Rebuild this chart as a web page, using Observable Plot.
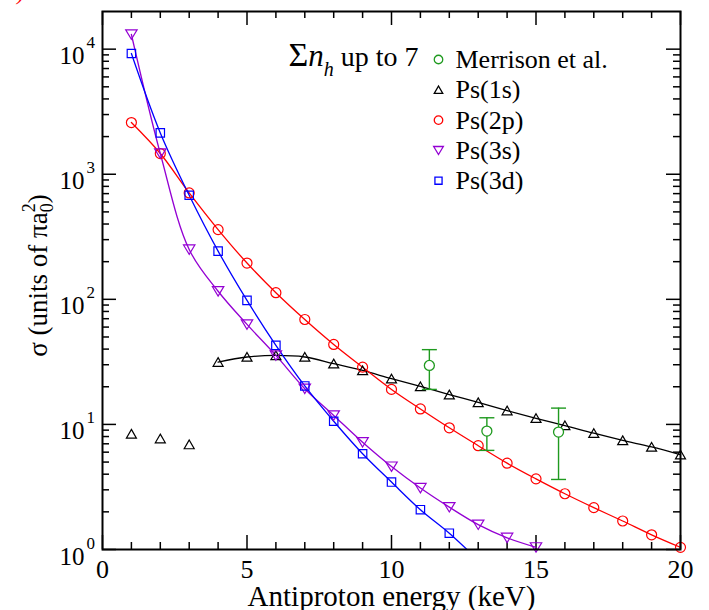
<!DOCTYPE html>
<html><head><meta charset="utf-8">
<script src="https://cdn.jsdelivr.net/npm/d3@7"></script>
<script src="https://cdn.jsdelivr.net/npm/@observablehq/plot@0.6"></script>
<style>
body{margin:0;background:#fff;}
#wrap{position:relative;width:709px;height:610px;overflow:hidden;}
#tag{position:absolute;left:6px;top:-20px;color:#f00;font:italic 22px "Liberation Serif";}
svg{display:block;}
</style>
</head><body><div id="wrap"><span id="tag">a)</span></div>
<script>
// ---- data ----
const energies = [1,2,3,4,5,6,7,8,9,10,11,12,13,14,15,16,17,18,19,20];
const ps1s = [8.4,7.7,6.9,31.5,34.6,35.6,34.6,30.6,27,23.2,20.1,17.3,15,12.9,11.2,9.8,8.5,7.45,6.6,5.72];
const ps2p = [2590,1464,709,361,195,113,69,43.6,28.7,19.05,13.3,9.4,6.76,4.9,3.67,2.79,2.16,1.69,1.31,1.04];
const ps3s = [13100,1464,250,116,63,35.6,19.3,11.8,7.2,4.6,3.1,2.18,1.58,1.24,1.04];
const ps3d = [9230,2140,679,243,98,42.9,20.3,10.6,5.83,3.46,2.08,1.35];
const ps3dTailX = [13];          // fitted curve continues below the axis
const ps3dTailY = [0.82];
const merrisonX = [11.31,13.3,15.78];
const merrisonY = [29.6,8.84,8.68];
const merrisonLo = [19.05,6.2,3.63];
const merrisonHi = [39.6,11.3,13.5];
const xMajor = [0,5,10,15,20];
const xMinor = [1,2,3,4,6,7,8,9,11,12,13,14,16,17,18,19];
const yMajor = [1,10,100,1000,10000];
const yExp = ["0","1","2","3","4"];
const yMinor = [2,3,4,5,6,7,8,9,20,30,40,50,60,70,80,90,200,300,400,500,600,700,800,900,2000,3000,4000,5000,6000,7000,8000,9000];
const legendLabels = ["Merrison et al.","Ps(1s)","Ps(2p)","Ps(3s)","Ps(3d)"];
const colors = {merrison:"#1f9a1f", s1:"#000000", p2:"#ff0000", s3:"#9400d3", d3:"#0000ff"};

// ---- symbols ----
const mk = k => ({
  circle:{draw(c){const r=5*k;c.moveTo(r,0);c.arc(0,0,r,0,2*Math.PI);}},
  up:{draw(c){c.moveTo(0,-4.5*k);c.lineTo(5*k,4.2*k);c.lineTo(-5*k,4.2*k);c.closePath();}},
  down:{draw(c){c.moveTo(0,4.8*k);c.lineTo(5.7*k,-4.6*k);c.lineTo(-5.7*k,-4.6*k);c.closePath();}},
  square:{draw(c){c.rect(-4.2*k,-4.2*k,8.4*k,8.4*k);}}
});
const S = mk(1), L = mk(0.85);
const cap = {draw(c){c.moveTo(-7.5,0);c.lineTo(7.5,0);}};

const rows = (xs, ys) => ys.map((v,i)=>({x:xs[i], y:v}));
const d1s = rows(energies, ps1s);
const d2p = rows(energies, ps2p);
const d3s = rows(energies, ps3s);
const d3d = rows(energies, ps3d);
const d3dLine = d3d.concat(rows(ps3dTailX, ps3dTailY));
const merr = merrisonX.map((x,i)=>({x, y:merrisonY[i], lo:merrisonLo[i], hi:merrisonHi[i]}));

const W = 709, H = 610, ML = 102, MR = 29, MT = 11, MB = 61;
const FW = W-ML-MR, FH = H-MT-MB;

const legendSyms = [
  {sym:L.circle, c:colors.merrison},
  {sym:L.up, c:colors.s1},
  {sym:L.circle, c:colors.p2},
  {sym:L.down, c:colors.s3},
  {sym:L.square, c:colors.d3}
];
const legendMarks = [];
legendLabels.forEach((lab,i)=>{
  const rowY = 59 + 30.3*i - MT;
  legendMarks.push(Plot.dot([lab], {x:null, y:null, frameAnchor:"top-left", dx:336, dy:rowY, symbol:legendSyms[i].sym, stroke:legendSyms[i].c, strokeWidth:1.3, fill:"none"}));
  legendMarks.push(Plot.text([lab], {x:null, y:null, text:d=>d, frameAnchor:"top-left", dx:353, dy:rowY+8.5, textAnchor:"start", lineAnchor:"bottom", fontSize:26}));
});

const chart = Plot.plot({
  width: W, height: H,
  marginLeft: ML, marginRight: MR, marginTop: MT, marginBottom: MB,
  style: {fontFamily: "Liberation Serif", fontSize: "24px", background: "white", color: "black"},
  x: {domain: [0,20], axis: null},
  y: {type: "log", domain: [1, 2e4], axis: null},
  marks: [
    // ticks (inward)
    Plot.tickX(xMajor, {x:d=>d, insetTop:FH-14, stroke:"black", strokeWidth:1.5}),
    Plot.tickX(xMinor, {x:d=>d, insetTop:FH-7, stroke:"black", strokeWidth:1.5}),
    Plot.tickX(xMajor, {x:d=>d, insetBottom:FH-14, stroke:"black", strokeWidth:1.5}),
    Plot.tickX(xMinor, {x:d=>d, insetBottom:FH-7, stroke:"black", strokeWidth:1.5}),
    Plot.tickY(yMajor, {y:d=>d, insetRight:FW-14, stroke:"black", strokeWidth:1.5}),
    Plot.tickY(yMinor, {y:d=>d, insetRight:FW-7, stroke:"black", strokeWidth:1.5}),
    Plot.tickY(yMajor, {y:d=>d, insetLeft:FW-14, stroke:"black", strokeWidth:1.5}),
    Plot.tickY(yMinor, {y:d=>d, insetLeft:FW-7, stroke:"black", strokeWidth:1.5}),
    // tick labels
    Plot.text(xMajor, {x:d=>d, frameAnchor:"bottom", dy:28, text:d=>String(d), textAnchor:"middle", lineAnchor:"bottom", fontSize:26}),
    Plot.text(yMajor, {y:d=>d, frameAnchor:"left", dx:-18, dy:15, text:()=>"10", textAnchor:"end", lineAnchor:"bottom", fontSize:25}),
    Plot.text(yMajor, {y:d=>d, frameAnchor:"left", dx:-16, dy:-1, text:(d,i)=>yExp[i], textAnchor:"start", lineAnchor:"bottom", fontSize:17}),
    // axis titles
    Plot.text(["Antiproton energy (keV)"], {x:null, y:null, frameAnchor:"bottom", dy:56, text:d=>d, textAnchor:"middle", lineAnchor:"bottom", fontSize:29}),
    Plot.text(["σ (units of πa"], {x:null, y:null, frameAnchor:"left", dx:-56, dy:-5, rotate:-90, text:d=>d, textAnchor:"middle", lineAnchor:"bottom", fontSize:27}),
    // lines
    Plot.line(d1s.filter(d=>d.x>=4), {x:"x", y:"y", stroke:colors.s1, strokeWidth:1.3, curve:"catmull-rom", clip:true}),
    Plot.line(d2p, {x:"x", y:"y", stroke:colors.p2, strokeWidth:1.3, curve:"catmull-rom", clip:true}),
    Plot.line(d3s, {x:"x", y:"y", stroke:colors.s3, strokeWidth:1.3, curve:"catmull-rom", clip:true}),
    Plot.line(d3dLine, {x:"x", y:"y", stroke:colors.d3, strokeWidth:1.3, curve:"catmull-rom", clip:true}),
    // markers
    Plot.dot(d1s, {x:"x", y:"y", symbol:S.up, stroke:colors.s1, strokeWidth:1.2, fill:"none"}),
    Plot.dot(d2p, {x:"x", y:"y", symbol:S.circle, stroke:colors.p2, strokeWidth:1.2, fill:"none"}),
    Plot.dot(d3s, {x:"x", y:"y", symbol:S.down, stroke:colors.s3, strokeWidth:1.2, fill:"none"}),
    Plot.dot(d3d, {x:"x", y:"y", symbol:S.square, stroke:colors.d3, strokeWidth:1.2, fill:"none"}),
    // Merrison data with error bars
    Plot.ruleX(merr, {x:"x", y1:"lo", y2:"hi", stroke:colors.merrison, strokeWidth:1.4}),
    Plot.dot(merr, {x:"x", y:"lo", symbol:cap, stroke:colors.merrison, strokeWidth:1.4}),
    Plot.dot(merr, {x:"x", y:"hi", symbol:cap, stroke:colors.merrison, strokeWidth:1.4}),
    Plot.dot(merr, {x:"x", y:"y", symbol:S.circle, stroke:colors.merrison, strokeWidth:1.3, fill:"white"}),
    // annotation
    Plot.text(["Σ"], {x:null, y:null, frameAnchor:"top-left", dx:186, dy:54, text:d=>d, textAnchor:"start", lineAnchor:"bottom", fontSize:34}),
    ...legendMarks,
    Plot.frame({stroke:"black", strokeWidth:2})
  ]
});
document.getElementById("wrap").appendChild(chart);

// rich-text touches (sub/superscripts, italics)
const svg = d3.select(chart);
svg.selectAll("text").filter(function(){return this.textContent === "σ (units of πa";}).each(function(){
  const t = d3.select(this);
  t.append("tspan").attr("dy", 6).attr("font-size", 18).text("0");
  t.append("tspan").attr("dx", -9).attr("dy", -18).attr("font-size", 18).text("2");
  t.append("tspan").attr("dy", 12).text(")");
});
svg.selectAll("text").filter(function(){return this.textContent === "Σ";}).each(function(){
  const t = d3.select(this);
  t.append("tspan").attr("font-style", "italic").attr("font-size", 31).text("n");
  t.append("tspan").attr("font-style", "italic").attr("font-size", 20).attr("dy", 10).text("h");
  t.append("tspan").attr("font-size", 28).attr("dy", -10).text(" up to 7");
});
</script>
</body></html>
